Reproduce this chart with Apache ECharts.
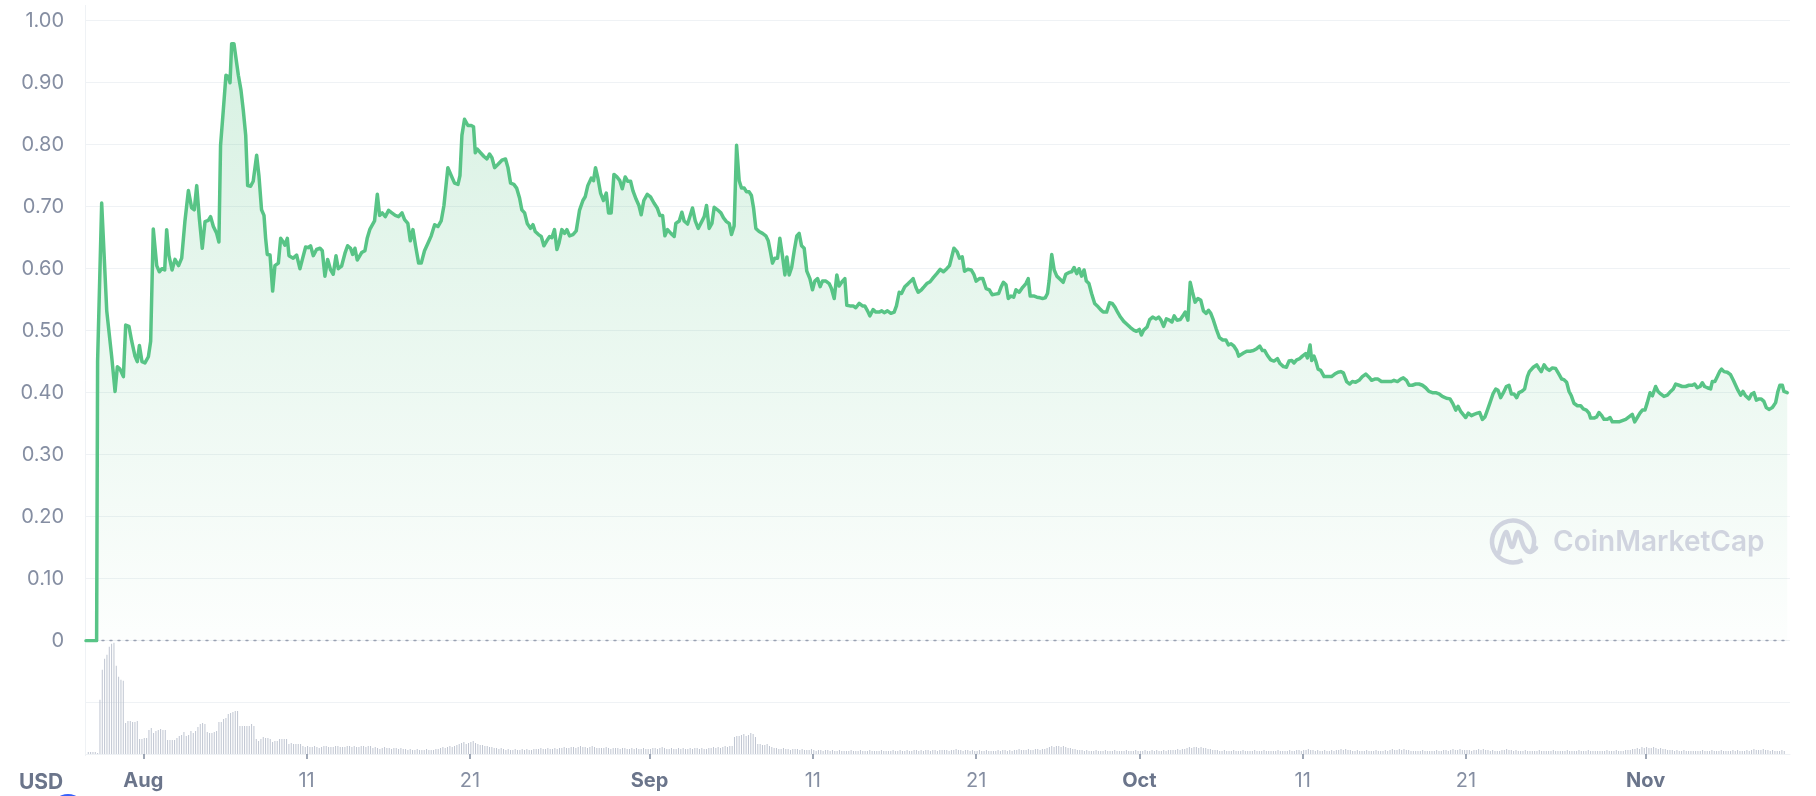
<!DOCTYPE html>
<html>
<head>
<meta charset="utf-8">
<script src="https://cdn.jsdelivr.net/npm/echarts@6/dist/echarts.min.js"></script>
<style>
html,body{margin:0;padding:0;background:#ffffff;}
#chart{width:1816px;height:796px;}
</style>
</head>
<body>
<div id="chart"></div>
<script>
// x values are days since Aug 1 (00:00)
const X_MIN = -3.51;
const X_MAX = 100.84;

const tickDays = [0, 10, 20, 31, 41, 51, 61, 71, 81, 92];
const tickLabels = ['Aug', '11', '21', 'Sep', '11', '21', 'Oct', '11', '21', 'Nov'];
const monthTicks = ['Aug', 'Sep', 'Oct', 'Nov'];

// price in USD: [day since Aug 1, price]
const priceHistory = [
[-3.51,0],[-2.86,0],[-2.80,0.45],[-2.55,0.706],[-2.24,0.532],[-1.94,0.459],[-1.73,0.402],[-1.59,0.442],[-1.43,0.438],[-1.22,0.426],
[-1.08,0.509],[-0.88,0.507],[-0.71,0.483],[-0.51,0.459],[-0.37,0.450],[-0.24,0.476],[-0.08,0.450],[0.10,0.448],[0.31,0.458],[0.45,0.483],
[0.61,0.664],[0.82,0.605],[0.98,0.595],[1.14,0.600],[1.31,0.598],[1.43,0.663],[1.57,0.621],[1.76,0.598],[1.94,0.615],[2.16,0.605],
[2.35,0.617],[2.55,0.677],[2.76,0.726],[2.96,0.698],[3.12,0.695],[3.27,0.734],[3.43,0.681],[3.61,0.633],[3.78,0.676],[3.98,0.678],
[4.12,0.684],[4.29,0.668],[4.49,0.657],[4.63,0.643],[4.73,0.799],[4.90,0.856],[5.06,0.912],[5.20,0.910],[5.31,0.900],[5.41,0.963],
[5.55,0.963],[5.65,0.960],[5.82,0.912],[5.98,0.888],[6.12,0.856],[6.27,0.815],[6.39,0.734],[6.57,0.733],[6.73,0.741],[6.94,0.783],
[7.08,0.750],[7.24,0.695],[7.39,0.686],[7.49,0.649],[7.59,0.623],[7.76,0.622],[7.92,0.564],[8.06,0.605],[8.27,0.609],[8.41,0.649],
[8.57,0.643],[8.67,0.638],[8.82,0.649],[8.92,0.621],[9.18,0.617],[9.39,0.622],[9.59,0.600],[9.76,0.617],[9.94,0.635],[10.10,0.634],
[10.24,0.637],[10.41,0.621],[10.61,0.631],[10.82,0.633],[10.96,0.629],[11.12,0.588],[11.29,0.615],[11.47,0.598],[11.63,0.591],[11.80,0.621],
[11.94,0.600],[12.14,0.604],[12.35,0.625],[12.51,0.637],[12.69,0.633],[12.82,0.623],[12.96,0.633],[13.10,0.614],[13.37,0.626],[13.57,0.629],
[13.71,0.649],[13.88,0.664],
[14.16,0.677],[14.33,0.720],[14.47,0.686],[14.63,0.690],[14.82,0.684],[15.02,0.694],[15.22,0.690],[15.43,0.686],[15.63,0.684],[15.84,0.690],
[16.00,0.679],[16.20,0.673],[16.35,0.645],[16.51,0.663],[16.67,0.637],[16.86,0.609],[17.02,0.609],[17.22,0.629],[17.43,0.641],[17.63,0.653],
[17.84,0.671],[18.04,0.668],[18.24,0.677],[18.41,0.702],[18.65,0.763],[18.86,0.750],[19.06,0.738],[19.27,0.736],[19.39,0.750],[19.51,0.815],
[19.67,0.841],[19.88,0.831],[20.08,0.831],[20.22,0.829],[20.33,0.787],[20.45,0.793],[20.65,0.787],[20.86,0.781],[21.04,0.777],[21.20,0.785],
[21.35,0.779],[21.51,0.763],[21.71,0.768],[21.96,0.775],[22.18,0.777],[22.33,0.763],[22.49,0.738],[22.69,0.736],[22.86,0.730],[23.04,0.714],
[23.18,0.695],[23.35,0.690],[23.51,0.673],[23.71,0.665],[23.86,0.671],[24.00,0.660],[24.20,0.655],[24.37,0.652],[24.53,0.637],[24.71,0.645],
[24.88,0.652],[25.02,0.650],[25.18,0.663],[25.33,0.631],[25.45,0.641],[25.63,0.663],[25.80,0.657],[25.94,0.663],[26.10,0.653],[26.31,0.655],
[26.51,0.661],[26.71,0.694],[26.92,0.710],[27.06,0.716],[27.22,0.734],[27.43,0.746],[27.57,0.742],[27.69,0.763],[27.84,0.746],[28.00,0.722],
[28.18,0.710],[28.35,0.722],[28.49,0.690],[28.65,0.690],[28.82,0.752],[29.00,0.748],[29.18,0.742],[29.33,0.729],[29.51,0.748],[29.67,0.741],
[29.84,0.741],[29.98,0.726],[30.18,0.712],[30.35,0.702],[30.49,0.687],[30.65,0.710],[30.86,0.720],[31.06,0.716],[31.27,0.706],[31.47,0.698],
[31.63,0.686],
[31.80,0.686],[31.94,0.653],[32.10,0.663],[32.31,0.657],[32.51,0.652],[32.61,0.673],[32.82,0.677],[32.98,0.691],[33.12,0.677],[33.33,0.672],
[33.49,0.686],[33.63,0.698],[33.80,0.677],[33.98,0.665],[34.14,0.673],[34.35,0.684],[34.49,0.702],[34.65,0.665],[34.82,0.673],[34.96,0.699],
[35.16,0.695],[35.37,0.690],[35.53,0.682],[35.71,0.676],[35.88,0.673],[36.02,0.655],[36.18,0.669],[36.33,0.799],[36.49,0.742],[36.63,0.730],
[36.80,0.730],[36.94,0.724],[37.10,0.724],[37.24,0.718],[37.37,0.698],[37.51,0.665],[37.71,0.660],[37.92,0.657],[38.12,0.653],[38.27,0.645],
[38.39,0.629],[38.53,0.609],[38.67,0.617],[38.84,0.617],[38.98,0.649],[39.14,0.621],[39.29,0.590],[39.41,0.619],[39.55,0.590],[39.71,0.603],
[39.86,0.629],[40.02,0.653],[40.16,0.657],[40.31,0.637],[40.47,0.633],[40.63,0.596],[40.82,0.584],[40.98,0.566],[41.12,0.580],[41.29,0.584],
[41.45,0.571],[41.59,0.580],[41.80,0.580],[42.00,0.576],[42.14,0.568],[42.31,0.552],[42.47,0.590],[42.61,0.572],[42.82,0.580],[42.96,0.584],
[43.08,0.541],[43.27,0.540],[43.47,0.540],[43.63,0.537],[43.84,0.544],[44.04,0.540],[44.18,0.540],[44.35,0.532],[44.49,0.524],[44.69,0.534],
[44.86,0.530],[45.06,0.530],[45.22,0.532],[45.37,0.529],[45.57,0.532],[45.78,0.528],[45.98,0.530],[46.12,0.540],[46.29,0.562],[46.43,0.560],
[46.63,0.571],[46.84,0.576],[47.00,0.580],[47.14,0.584],[47.31,0.570],[47.45,0.562],[47.65,0.566],[47.82,0.571],[47.98,0.576],[48.18,0.579],
[48.39,0.586],[48.59,0.592],[48.80,0.599],[49.00,0.595],[49.20,0.600],[49.37,0.605],
[49.64,0.633],[49.84,0.627],[49.98,0.617],[50.15,0.619],[50.29,0.596],[50.49,0.599],[50.70,0.598],[50.86,0.591],[51.00,0.580],[51.20,0.584],
[51.41,0.584],[51.61,0.568],[51.81,0.566],[51.98,0.558],[52.18,0.559],[52.38,0.560],[52.52,0.570],[52.67,0.578],[52.83,0.574],[52.97,0.552],
[53.13,0.556],[53.30,0.554],[53.44,0.566],[53.64,0.562],[53.85,0.570],[54.05,0.576],[54.19,0.584],[54.31,0.556],[54.52,0.556],[54.72,0.554],
[54.92,0.553],[55.07,0.552],[55.23,0.553],[55.37,0.560],[55.47,0.580],[55.63,0.623],[55.78,0.598],[55.94,0.588],[56.14,0.583],[56.33,0.578],
[56.49,0.591],[56.69,0.594],[56.85,0.595],[57.00,0.602],[57.16,0.592],[57.30,0.600],[57.46,0.588],[57.61,0.598],[57.75,0.580],[57.91,0.576],
[58.07,0.560],[58.26,0.544],[58.42,0.540],[58.62,0.534],[58.78,0.530],[58.99,0.530],[59.17,0.545],[59.33,0.544],[59.50,0.538],[59.68,0.529],
[59.84,0.522],[60.04,0.515],[60.25,0.510],[60.45,0.505],[60.65,0.501],[60.82,0.499],[61.00,0.502],[61.12,0.493],[61.26,0.501],[61.47,0.506],
[61.63,0.518],[61.81,0.522],[62.02,0.519],[62.18,0.522],[62.32,0.517],[62.48,0.507],[62.65,0.519],[62.83,0.517],[62.99,0.514],[63.13,0.524],
[63.30,0.517],[63.50,0.518],[63.66,0.524],[63.80,0.530],[63.97,0.517],[64.11,0.578],[64.25,0.562],[64.41,0.546],[64.58,0.552],[64.76,0.549],
[64.92,0.532],[65.09,0.528],[65.23,0.533],[65.37,0.528],[65.53,0.517],[65.70,0.503],[65.90,0.489],[66.10,0.485],[66.30,0.485],[66.45,0.477],
[66.61,0.479],[66.79,0.475],[66.96,0.468],[67.08,0.459],
[67.37,0.464],[67.57,0.467],[67.78,0.467],[67.98,0.468],[68.18,0.471],[68.37,0.475],[68.53,0.468],[68.67,0.468],[68.84,0.460],[69.04,0.453],
[69.24,0.451],[69.45,0.455],[69.61,0.447],[69.82,0.442],[70.00,0.441],[70.16,0.451],[70.33,0.452],[70.47,0.448],[70.63,0.453],[70.82,0.455],
[70.98,0.459],[71.18,0.463],[71.29,0.456],[71.45,0.477],[71.55,0.452],[71.69,0.459],[71.80,0.451],[71.94,0.438],[72.10,0.436],[72.31,0.426],
[72.55,0.426],[72.76,0.426],[72.96,0.430],[73.16,0.433],[73.33,0.434],[73.49,0.432],[73.69,0.418],[73.88,0.414],[74.04,0.418],[74.24,0.417],
[74.45,0.420],[74.65,0.426],[74.86,0.430],[75.06,0.425],[75.22,0.420],[75.41,0.422],[75.61,0.422],[75.82,0.418],[76.02,0.418],[76.22,0.418],
[76.43,0.418],[76.59,0.420],[76.80,0.418],[77.00,0.422],[77.16,0.424],[77.35,0.420],[77.51,0.412],[77.71,0.412],[77.92,0.414],[78.12,0.414],
[78.33,0.412],[78.53,0.408],[78.73,0.402],[78.94,0.400],[79.14,0.400],[79.35,0.398],[79.55,0.394],[79.80,0.391],[80.02,0.390],[80.20,0.382],
[80.37,0.372],[80.51,0.378],[80.67,0.370],[80.82,0.365],[80.98,0.360],[81.14,0.367],[81.33,0.363],[81.49,0.365],[81.69,0.367],[81.84,0.368],
[82.00,0.357],[82.16,0.361],[82.31,0.372],[82.47,0.384],[82.65,0.398],[82.82,0.406],[82.96,0.404],[83.12,0.392],[83.29,0.400],[83.47,0.410],
[83.63,0.412],[83.78,0.398],[83.94,0.398],[84.10,0.392],[84.24,0.400],[84.41,0.402],[84.59,0.406],[84.76,0.426],[84.88,0.434],
[85.12,0.441],[85.33,0.445],[85.47,0.439],[85.61,0.434],[85.78,0.445],[85.94,0.439],[86.10,0.436],[86.29,0.440],[86.49,0.439],[86.69,0.430],
[86.86,0.422],[87.00,0.421],[87.16,0.417],[87.31,0.402],[87.45,0.395],[87.61,0.383],[87.82,0.379],[88.02,0.379],[88.18,0.374],[88.37,0.372],
[88.53,0.367],[88.63,0.359],[88.84,0.359],[89.00,0.361],[89.14,0.368],[89.31,0.363],[89.45,0.357],[89.65,0.357],[89.82,0.360],[89.96,0.353],
[90.16,0.353],[90.37,0.353],[90.57,0.355],[90.78,0.357],[90.98,0.361],[91.18,0.365],[91.33,0.353],[91.49,0.360],[91.65,0.367],[91.80,0.372],
[91.96,0.372],[92.10,0.384],[92.27,0.400],[92.41,0.395],[92.61,0.410],[92.76,0.402],[92.92,0.398],[93.12,0.394],[93.33,0.396],[93.53,0.402],
[93.69,0.406],[93.84,0.414],[94.04,0.412],[94.24,0.410],[94.45,0.410],[94.65,0.412],[94.86,0.412],[95.00,0.414],[95.16,0.408],[95.33,0.410],
[95.47,0.416],[95.61,0.410],[95.78,0.408],[95.98,0.406],[96.08,0.418],[96.24,0.418],[96.39,0.426],[96.53,0.434],[96.65,0.438],[96.80,0.434],
[97.00,0.433],[97.20,0.429],[97.37,0.420],[97.51,0.412],[97.65,0.404],[97.82,0.396],[97.96,0.402],[98.12,0.395],[98.33,0.390],[98.49,0.398],
[98.63,0.400],[98.78,0.388],[98.94,0.390],[99.08,0.390],[99.24,0.386],[99.39,0.376],[99.55,0.373],[99.76,0.376],[99.96,0.384],[100.10,0.402],
[100.22,0.412],[100.37,0.412],[100.47,0.402],[100.67,0.400]
];

// trading volume (relative units), 7 bars per day starting at day VOL_START
const VOL_START = -3.37;
const VOL_PER_DAY = 7;
const volumes = [
2,2,2,2,1,54,84,
95,99,107,110,111,88,77,
74,73,31,33,33,32,32,
33,15,15,16,16,24,26,
21,23,24,25,24,24,14,
14,14,14,16,18,19,22,
18,19,23,21,23,27,30,
31,30,22,21,21,22,23,
32,32,35,36,40,41,42,
43,43,28,28,28,28,28,
30,28,15,13,15,17,16,
16,15,12,13,13,15,15,
15,15,10,11,10,10,10,
10,8,7,8,7,7,8,
7,6,7,8,8,7,7,
7,8,8,7,7,7,8,
8,7,8,7,7,8,8,
7,8,8,
6,7,6,5,6,7,6,
6,5,6,6,5,6,5,
5,4,5,4,4,5,4,
4,4,5,4,4,4,5,
5,6,7,6,7,8,7,
8,9,10,11,12,10,11,
12,13,11,10,9,9,8,
8,7,7,6,6,5,6,
5,4,5,4,4,5,4,
4,5,4,5,4,4,5,
5,5,6,5,5,6,5,
5,6,5,6,6,7,6,
6,7,7,6,7,8,7,
7,6,7,8,7,6,6,
6,6,7,6,5,6,6,
6,5,6,6,5,5,6,
5,6,5,5,6,5,5,
5,6,6,5,6,7,6,
5,5,6,5,5,6,5,
6,5,5,6,5,6,6,
5,6,5,5,6,6,7,
6,7,6,7,8,7,8,
8,17,18,18,19,20,18,
19,21,20,17,10,10,9,
9,10,8,7,6,6,5,
5,6,5,5,4,5,5,
5,4,5,4,4,4,5,
4,3,4,4,3,4,4,
3,4,3,3,4,3,3,
3,3,4,3,3,3,4,
3,3,3,4,3,3,3,
3,4,3,3,3,3,4,
3,3,4,3,3,4,3,
3,4,4,3,4,3,4,
4,3,4,4,3,4,4,
4,4,3,4,4,5,4,
4,3,4,4,3,4,3,
3,4,3,3,4,3,3,
3,3,4,3,4,4,3,
4,3,4,4,5,4,4,
4,5,4,4,5,5,4,
5,5,6,7,8,7,8,
8,7,8,7,6,6,5,
5,4,4,4,3,4,3,
3,3,4,3,3,3,4,
3,3,3,4,3,3,3,
3,4,3,3,3,4,3,
3,3,4,3,3,4,3,
4,3,3,4,3,4,4,
4,4,5,4,5,5,6,
7,6,7,7,6,7,6,
6,5,5,4,4,4,3,
3,4,3,3,3,4,3,
3,3,4,3,3,3,3,
4,3,3,3,4,3,3,
3,3,3,4,3,3,3,
3,4,3,3,4,4,3,
4,4,5,4,4,3,4,
3,3,4,3,3,4,3,
4,4,5,4,5,4,4,
3,3,4,3,3,3,4,
3,3,3,4,3,3,3,
4,3,4,5,4,4,5,
4,5,4,4,3,3,3,
3,3,4,3,3,3,3,
3,4,3,3,4,4,3,
4,5,4,4,5,4,4,
4,4,3,4,4,5,4,
5,4,4,3,4,3,3,
3,4,4,5,4,4,3,
4,3,3,3,4,3,3,
3,3,3,4,3,3,3,
3,3,4,3,3,3,3,
3,4,3,3,3,3,4,
3,3,3,4,3,3,3,
3,3,3,3,4,3,3,
3,4,3,3,3,4,4,
4,5,5,6,5,7,6,
7,6,6,7,6,5,6,
5,5,4,4,4,3,4,
3,3,4,3,3,3,3,
3,3,3,4,3,3,3,
4,3,3,3,4,3,3,
3,3,4,3,4,3,3,
3,4,3,4,5,4,4,
4,5,4,4,3,4,3,
3,3,4,3
];
const VOL_MAX = 112;
const VOL_GRID_STEP = 52;

const volumeData = volumes.map((v, i) => [VOL_START + i / VOL_PER_DAY, v]);

const chart = echarts.init(document.getElementById('chart'), null, {renderer: 'canvas'});

const FONT = 'Inter, "Noto Sans", sans-serif';
const GRID_COLOR = '#eff2f5';

const option = {
  animation: false,
  backgroundColor: '#ffffff',
  grid: [
    {left: 86, right: 26, top: 20.7, height: 620, outerBoundsMode: 'none', containLabel: false},
    {left: 86, right: 26, top: 641.7, height: 112.3, outerBoundsMode: 'none', containLabel: false}
  ],
  xAxis: [
    {
      type: 'value', gridIndex: 0, min: X_MIN, max: X_MAX,
      axisLine: {show: true, lineStyle: {color: '#9aa1b3', width: 1.4, type: [2, 6]}},
      axisTick: {show: false}, axisLabel: {show: false}, splitLine: {show: false}
    },
    {
      type: 'value', gridIndex: 1, min: X_MIN, max: X_MAX,
      axisLine: {show: true, lineStyle: {color: GRID_COLOR, width: 1}},
      axisTick: {show: true, customValues: tickDays, length: 5, lineStyle: {color: '#808a9d', width: 1.5}},
      axisLabel: {
        show: true, customValues: tickDays, margin: 16,
        formatter: function (value) {
          const i = tickDays.findIndex(d => Math.abs(d - value) < 1e-6);
          if (i < 0) return '';
          const lab = tickLabels[i];
          return monthTicks.indexOf(lab) >= 0 ? '{m|' + lab + '}' : '{d|' + lab + '}';
        },
        rich: {
          m: {fontFamily: FONT, fontSize: 20, fontWeight: 'bold', color: '#6b758b', lineHeight: 22},
          d: {fontFamily: FONT, fontSize: 20, color: '#858ea2', lineHeight: 22}
        }
      },
      splitLine: {show: false}
    }
  ],
  yAxis: [
    {
      type: 'value', gridIndex: 0, min: 0, max: 1, interval: 0.1,
      axisLine: {show: false}, axisTick: {show: false},
      axisLabel: {
        margin: 22, color: '#858ea2', fontFamily: FONT, fontSize: 20,
        formatter: v => (Math.abs(v) < 1e-9 ? '0' : v.toFixed(2))
      },
      splitLine: {show: true, lineStyle: {color: GRID_COLOR, width: 1}}
    },
    {
      type: 'value', gridIndex: 1, min: 0, max: VOL_MAX, interval: VOL_GRID_STEP,
      axisLine: {show: false}, axisTick: {show: false}, axisLabel: {show: false},
      splitLine: {show: true, lineStyle: {color: ['rgba(0,0,0,0)', GRID_COLOR, 'rgba(0,0,0,0)', 'rgba(0,0,0,0)'], width: 1}}
    }
  ],
  series: [
    {
      name: 'Volume', type: 'bar', xAxisIndex: 1, yAxisIndex: 1,
      data: volumeData, barWidth: 1, silent: true,
      itemStyle: {color: '#bfc5d1'}
    },
    {
      name: 'Price', type: 'line', xAxisIndex: 0, yAxisIndex: 0,
      data: priceHistory, showSymbol: false, symbol: 'none', smooth: false,
      lineStyle: {color: '#58c486', width: 3.5, join: 'round', cap: 'round'},
      areaStyle: {
        color: {
          type: 'linear', x: 0, y: 0, x2: 0, y2: 1,
          colorStops: [
            {offset: 0, color: 'rgba(88,196,134,0.34)'},
            {offset: 1, color: 'rgba(88,196,134,0.02)'}
          ]
        }
      },
      z: 3
    }
  ],
  graphic: [
    {type: 'line', shape: {x1: 85.5, y1: 5, x2: 85.5, y2: 756}, style: {stroke: GRID_COLOR, lineWidth: 1}, silent: true, z: 0},
    {type: 'text', x: 19, y: 783, style: {text: 'USD', fontFamily: FONT, fontSize: 21, fontWeight: 'bold', fill: '#6b758b', align: 'left', verticalAlign: 'middle'}, silent: true},
    {type: 'circle', shape: {cx: 68, cy: 811, r: 17}, style: {fill: '#3861fb'}, silent: true},
    {type: 'arc', shape: {cx: 1513, cy: 541.5, r: 21, startAngle: Math.PI * 0.35, endAngle: Math.PI * 2.17, clockwise: true},
      style: {stroke: '#d0d4df', lineWidth: 4.5, fill: null}, silent: true, z: 10},
    {type: 'polyline', shape: {points: [[1499, 553], [1506, 532], [1512, 547], [1518, 532], [1524, 547], [1530, 552], [1536, 548]], smooth: 0.35},
      style: {stroke: '#d0d4df', lineWidth: 4.5, fill: null, lineCap: 'round', lineJoin: 'round'}, silent: true, z: 10},
    {type: 'text', x: 1553, y: 543, style: {text: 'CoinMarketCap', fontFamily: FONT, fontSize: 28, fontWeight: 600, fill: '#d0d4df', align: 'left', verticalAlign: 'middle'}, silent: true, z: 10}
  ]
};

chart.setOption(option);
</script>
</body>
</html>
